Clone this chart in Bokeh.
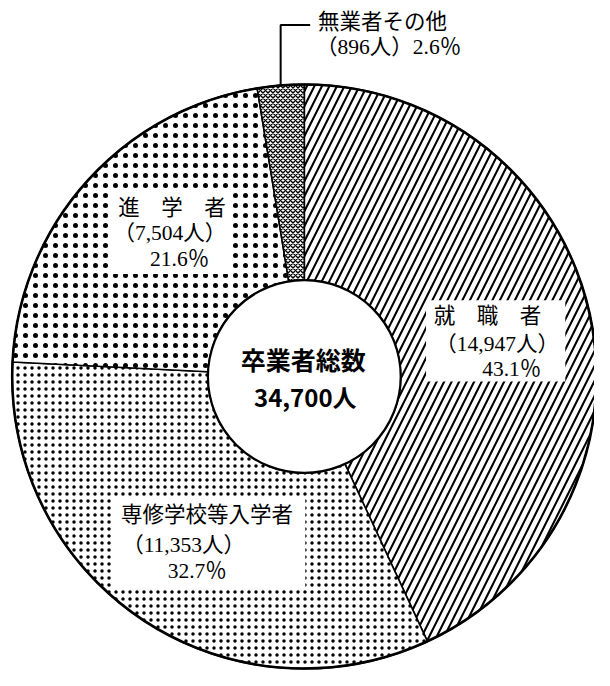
import math
from bokeh.plotting import figure
from bokeh.models import Range1d
from bokeh.core.properties import value
from bokeh.embed import file_html
from bokeh.resources import INLINE

# ---- data ----
categories = ["就職者", "専修学校等入学者", "進学者", "無業者その他"]
display_names = ["就　職　者", "専修学校等入学者", "進　学　者", "無業者その他"]
counts = [14947, 11353, 7504, 896]
percents = [43.1, 32.7, 21.6, 2.6]
total_label = "卒業者総数"
total_count = 34700

# ---- styles ----
hatches = ["/", ".", ".", "x"]
hatch_scales = [15, 7, 10, 5]
hatch_weights = [2.1, 3.0, 2.0, 1.4]

W, H = 594, 670
REF_W, REF_H = 610, 686
def sy(y):  # reference y (down) -> data y (up)
    return REF_H - y

CX, CY = 312, sy(385)
R_OUT, R_IN = 300, 99

p = figure(width=W, height=H, output_backend="svg", toolbar_location=None,
           x_range=Range1d(0, REF_W), y_range=Range1d(0, REF_H),
           min_border=0, outline_line_color=None)
p.axis.visible = False
p.grid.visible = False
p.background_fill_color = "white"
p.border_fill_color = "white"

total = sum(counts)
cum = 0.0
starts, ends = [], []
for c in counts:
    a0 = math.pi / 2 - 2 * math.pi * cum / total
    cum += c
    a1 = math.pi / 2 - 2 * math.pi * cum / total
    starts.append(a0)
    ends.append(a1)

for i in range(len(counts)):
    p.annular_wedge(x=CX, y=CY, inner_radius=R_IN, outer_radius=R_OUT,
                    start_angle=starts[i], end_angle=ends[i], direction="clock",
                    fill_color="white", line_color="black", line_width=1.6,
                    hatch_pattern=hatches[i], hatch_scale=hatch_scales[i],
                    hatch_weight=hatch_weights[i], hatch_color="black")

# outer and inner outlines
p.circle(x=[CX], y=[CY], radius=R_OUT, fill_color=None, line_color="black", line_width=2.6)
p.circle(x=[CX], y=[CY], radius=R_IN, fill_color="white", line_color="black", line_width=2.2)

# white label boxes (left, right, top, bottom in reference px)
boxes = [(437, 580, 307, 390), (115, 313, 510, 602), (113, 238, 194, 280)]
for (l, r, t, b) in boxes:
    p.quad(left=l, right=r, top=sy(t), bottom=sy(b), fill_color="white", line_color=None)

LBL_FONT = value("Liberation Serif, Noto Sans CJK JP")
FS = "21.5px"

def txt(x, y, s, align="center", size=FS, font=LBL_FONT, style="normal"):
    p.text(x=[x], y=[sy(y)], text=[s], text_align=align, text_baseline="middle",
           text_font=font, text_font_size=size, text_font_style=style, text_color="black")

def fmt_count(c):
    return "（{:,}人）".format(c)

def fmt_pct(v):
    return "{:.1f}％".format(v)

# 就職者
txt(500, 323, display_names[0])
txt(510, 352, fmt_count(counts[0]))
txt(525, 377, fmt_pct(percents[0]))
# 専修学校等入学者
txt(212, 527, display_names[1])
txt(188, 557, fmt_count(counts[1]))
txt(202, 584, fmt_pct(percents[1]))
# 進学者
txt(176, 212, display_names[2])
txt(174, 238, fmt_count(counts[2]))
txt(184, 265, fmt_pct(percents[2]))
# 無業者その他
txt(326, 22, display_names[3], align="left")
txt(324, 48, fmt_count(counts[3]) + fmt_pct(percents[3]), align="left")

# leader line for small slice
mid = (starts[3] + ends[3]) / 2
lx = CX + R_OUT * math.cos(mid)
ly = CY + R_OUT * math.sin(mid)
p.line(x=[lx, lx, 318], y=[ly, sy(25), sy(25)], line_color="black", line_width=2)

# center text
CJK_BOLD = value("Noto Sans CJK JP")
txt(311, 367, total_label, size="25px", font=CJK_BOLD, style="bold")
txt(313, 405, "{:,}人".format(total_count), size="24px", font=CJK_BOLD, style="bold")

open("out.html", "w").write(file_html(p, INLINE))
